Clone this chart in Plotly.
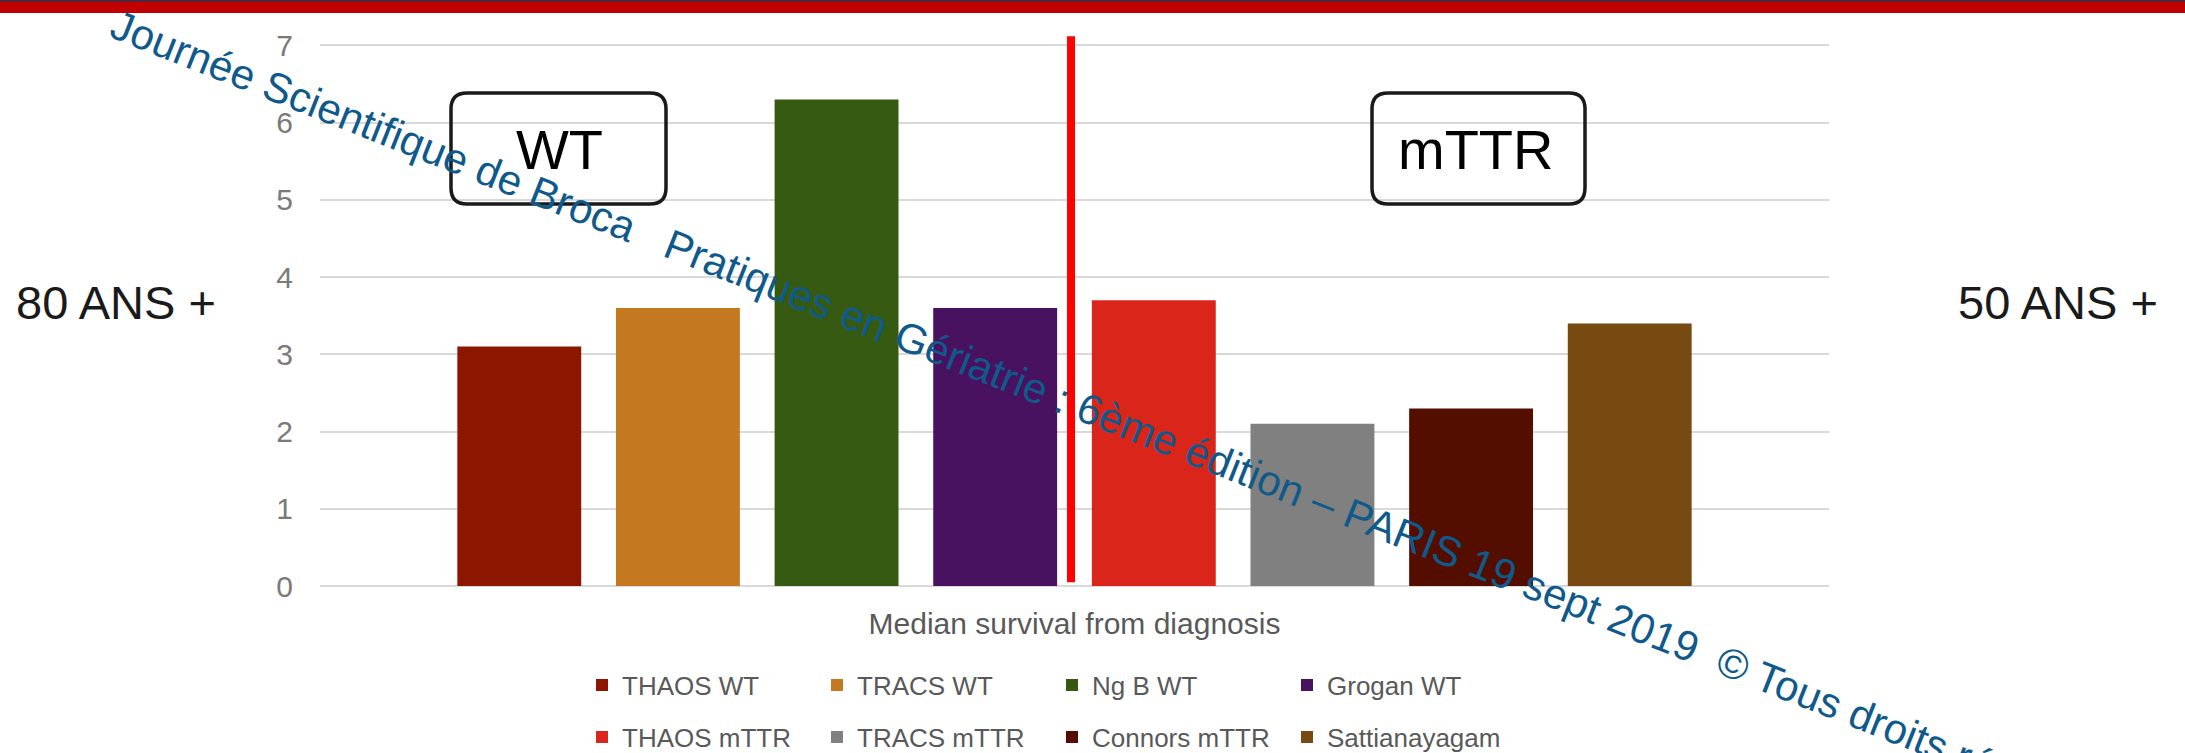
import plotly.graph_objects as go

# ---- data -------------------------------------------------------------
category = ["Median survival from diagnosis"]
series_names = ["THAOS WT", "TRACS WT", "Ng B WT", "Grogan WT",
                "THAOS mTTR", "TRACS mTTR", "Connors mTTR", "Sattianayagam"]
series_values = [3.1, 3.6, 6.3, 3.6, 3.7, 2.1, 2.3, 3.4]
series_colors = ["#8C1600", "#C47820", "#375A12", "#481260",
                 "#DA261A", "#808080", "#540E00", "#774A12"]
y_ticks = [0, 1, 2, 3, 4, 5, 6, 7]

# ---- canvas geometry --------------------------------------------------
W, H = 2185, 753
ML, MR, MT, MB = 320, 356, 30, 167
PW, PH = W - ML - MR, H - MT - MB


def px(x):
    """pixel x -> paper x"""
    return (x - ML) / PW


def py(y):
    """pixel y (from top) -> paper y"""
    return (H - MB - y) / PH


FONT = "Liberation Sans, Arial, sans-serif"

fig = go.Figure()
for i, (name, val, col) in enumerate(zip(series_names, series_values, series_colors)):
    fig.add_trace(go.Bar(
        x=category, y=[val], name=name,
        marker=dict(color=col, line=dict(width=0)),
        legend="legend" if i < 4 else "legend2",
    ))

legend_common = dict(
    orientation="h", xanchor="left", yanchor="middle",
    font=dict(family=FONT, size=26, color="#595959"),
    bgcolor="rgba(0,0,0,0)", entrywidth=190, entrywidthmode="pixels",
    itemclick=False, itemdoubleclick=False,
)


def rounded_box(x0, y0, x1, y1, r):
    X0, X1 = px(x0), px(x1)
    Y0, Y1 = py(y0), py(y1)
    rx, ry = r / PW, r / PH
    return (f"M{X0+rx},{Y0} L{X1-rx},{Y0} Q{X1},{Y0} {X1},{Y0-ry} "
            f"L{X1},{Y1+ry} Q{X1},{Y1} {X1-rx},{Y1} L{X0+rx},{Y1} "
            f"Q{X0},{Y1} {X0},{Y1+ry} L{X0},{Y0-ry} Q{X0},{Y0} {X0+rx},{Y0} Z")


shapes = [
    # header band
    dict(type="rect", xref="paper", yref="paper", x0=px(0), x1=px(W),
         y0=py(13), y1=py(0), fillcolor="#C00000", line=dict(width=0), layer="above"),
    dict(type="rect", xref="paper", yref="paper", x0=px(0), x1=px(W),
         y0=py(1.5), y1=py(0), fillcolor="#2B3350", line=dict(width=0), layer="above"),
    # WT / mTTR separator
    dict(type="line", xref="x", yref="y", x0=-0.0023, x1=-0.0023, y0=0.05, y1=7.12,
         line=dict(color="#FF0000", width=8), layer="above"),
    # group boxes
    dict(type="path", xref="paper", yref="paper", path=rounded_box(451, 93, 666, 204, 16),
         line=dict(color="#1A1A1A", width=3.5), fillcolor="rgba(0,0,0,0)", layer="above"),
    dict(type="path", xref="paper", yref="paper", path=rounded_box(1372, 93, 1585, 204, 16),
         line=dict(color="#1A1A1A", width=3.5), fillcolor="rgba(0,0,0,0)", layer="above"),
]

annotations = [
    dict(text="WT", x=px(559), y=py(149), xref="paper", yref="paper", showarrow=False,
         font=dict(family=FONT, size=56, color="#000000"), xanchor="center", yanchor="middle"),
    dict(text="mTTR", x=px(1476), y=py(149), xref="paper", yref="paper", showarrow=False,
         font=dict(family=FONT, size=56, color="#000000"), xanchor="center", yanchor="middle"),
    dict(text="80 ANS +", x=px(14), y=py(302), xref="paper", yref="paper", showarrow=False,
         font=dict(family=FONT, size=47, color="#1A1A1A"), xanchor="left", yanchor="middle"),
    dict(text="50 ANS +", x=px(1956), y=py(302), xref="paper", yref="paper", showarrow=False,
         font=dict(family=FONT, size=47, color="#1A1A1A"), xanchor="left", yanchor="middle"),
    dict(text=("Journée Scientifique de Broca\u00a0\u00a0 Pratiques en Gériatrie : 6ème édition"
               " – PARIS 19 sept 2019\u00a0 © Tous droits réservés"),
         x=px(1110), y=py(417), xref="paper", yref="paper", showarrow=False, textangle=21.6,
         font=dict(family=FONT, size=42, color="#0F5A8A"), xanchor="center", yanchor="middle"),
]

fig.update_layout(
    width=W, height=H,
    margin=dict(l=ML, r=MR, t=MT, b=MB, pad=0, autoexpand=False),
    paper_bgcolor="white", plot_bgcolor="white",
    barmode="group", bargap=0.159, bargroupgap=0.219,
    xaxis=dict(type="category", range=[-0.5, 0.5], showgrid=False, showline=False,
               ticks="", ticklabelstandoff=17,
               tickfont=dict(family=FONT, size=30, color="#595959")),
    yaxis=dict(range=[0, 7.2], tickvals=y_ticks, showgrid=True, gridcolor="#D9D9D9",
               gridwidth=2, zeroline=True, zerolinecolor="#D9D9D9", zerolinewidth=2,
               showline=False, ticks="", ticklabelstandoff=26,
               tickfont=dict(family=FONT, size=30, color="#7A7A7A")),
    legend=dict(x=px(582), y=py(685), **legend_common),
    legend2=dict(x=px(582), y=py(737), **legend_common),
    shapes=shapes, annotations=annotations,
    showlegend=True,
)

fig.write_html("out.html")
